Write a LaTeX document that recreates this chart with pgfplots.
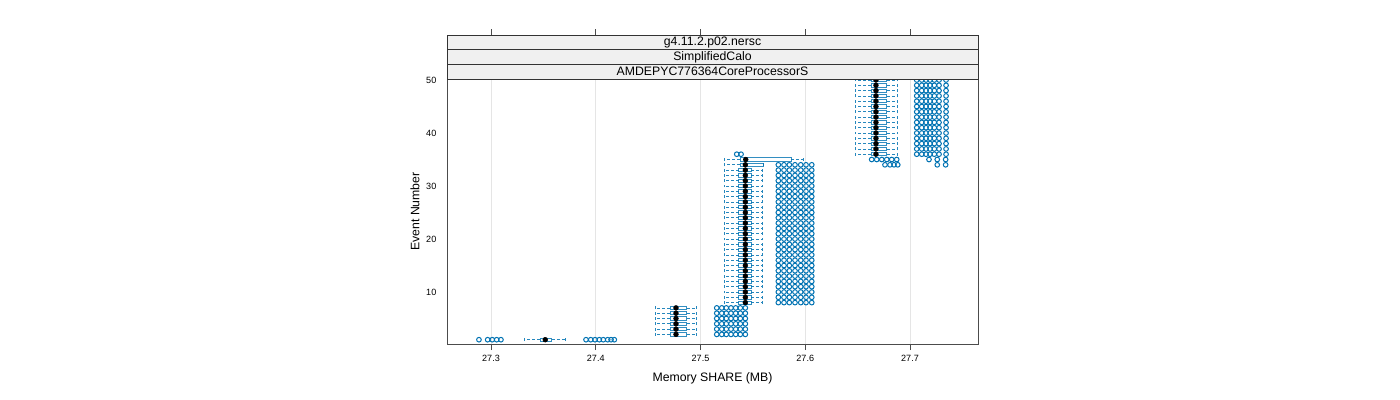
\documentclass[border=0pt]{standalone}
\usepackage{fontspec}
\setmainfont{Liberation Sans}
\usepackage{pgfplots}
\usepackage{pgfplotstable}
\usepgfplotslibrary{statistics}
\pgfplotsset{compat=1.18}
\definecolor{bl}{RGB}{0,114,178}
\definecolor{stripc}{RGB}{240,240,240}
\pgfplotsset{bxstyle/.style={color=bl, draw=bl, draw opacity=0.8, line width=0.6pt}}

\pgfplotstableread{
ev lw lq med uq uw
1 27.3318 27.3468 27.3518 27.3580 27.3706
2 27.4566 27.4709 27.4766 27.4868 27.4957
3 27.4566 27.4709 27.4766 27.4868 27.4957
4 27.4566 27.4709 27.4766 27.4868 27.4957
5 27.4566 27.4709 27.4766 27.4868 27.4957
6 27.4566 27.4709 27.4766 27.4868 27.4957
7 27.4566 27.4709 27.4766 27.4868 27.4957
8 27.5224 27.5365 27.5428 27.5485 27.5594
9 27.5224 27.5365 27.5428 27.5485 27.5594
10 27.5224 27.5365 27.5428 27.5485 27.5594
11 27.5224 27.5365 27.5428 27.5485 27.5594
12 27.5224 27.5365 27.5428 27.5485 27.5594
13 27.5224 27.5365 27.5428 27.5485 27.5594
14 27.5224 27.5365 27.5428 27.5485 27.5594
15 27.5224 27.5365 27.5428 27.5485 27.5594
16 27.5224 27.5365 27.5428 27.5485 27.5594
17 27.5224 27.5365 27.5428 27.5485 27.5594
18 27.5224 27.5365 27.5428 27.5485 27.5594
19 27.5224 27.5365 27.5428 27.5485 27.5594
20 27.5224 27.5365 27.5428 27.5485 27.5594
21 27.5224 27.5365 27.5428 27.5485 27.5594
22 27.5224 27.5365 27.5428 27.5485 27.5594
23 27.5224 27.5365 27.5428 27.5485 27.5594
24 27.5224 27.5365 27.5428 27.5485 27.5594
25 27.5224 27.5365 27.5428 27.5485 27.5594
26 27.5224 27.5365 27.5428 27.5485 27.5594
27 27.5224 27.5365 27.5428 27.5485 27.5594
28 27.5224 27.5365 27.5428 27.5485 27.5594
29 27.5224 27.5365 27.5428 27.5485 27.5594
30 27.5224 27.5365 27.5428 27.5485 27.5594
31 27.5224 27.5365 27.5428 27.5485 27.5594
32 27.5224 27.5365 27.5428 27.5485 27.5594
33 27.5224 27.5365 27.5428 27.5485 27.5594
34 27.5224 27.5377 27.5428 27.5597 27.5597
35 27.5224 27.5377 27.5432 27.5864 27.5982
36 27.6475 27.6630 27.6675 27.6778 27.6876
37 27.6475 27.6630 27.6675 27.6778 27.6876
38 27.6475 27.6630 27.6675 27.6778 27.6876
39 27.6475 27.6630 27.6675 27.6778 27.6876
40 27.6475 27.6630 27.6675 27.6778 27.6876
41 27.6475 27.6630 27.6675 27.6778 27.6876
42 27.6475 27.6630 27.6675 27.6778 27.6876
43 27.6475 27.6630 27.6675 27.6778 27.6876
44 27.6475 27.6630 27.6675 27.6778 27.6876
45 27.6475 27.6630 27.6675 27.6778 27.6876
46 27.6475 27.6630 27.6675 27.6778 27.6876
47 27.6475 27.6630 27.6675 27.6778 27.6876
48 27.6475 27.6630 27.6675 27.6778 27.6876
49 27.6475 27.6630 27.6675 27.6778 27.6876
50 27.6475 27.6630 27.6675 27.6778 27.6876
}\stats

\pgfplotstableread{
ev o1 o2 o3 o4 o5 o6 o7 o8 o9 o10 o11 o12 o13
1 27.2885 27.2968 27.3012 27.3054 27.3095 27.3907 27.3952 27.3993 27.4034 27.4072 27.4114 27.4146 27.4177
2 27.5155 27.5203 27.5246 27.5291 27.5336 27.5380 27.5428 nan nan nan nan nan nan
3 27.5155 27.5203 27.5246 27.5291 27.5336 27.5380 27.5428 nan nan nan nan nan nan
4 27.5155 27.5203 27.5246 27.5291 27.5336 27.5380 27.5428 nan nan nan nan nan nan
5 27.5155 27.5203 27.5246 27.5291 27.5336 27.5380 27.5428 nan nan nan nan nan nan
6 27.5155 27.5203 27.5246 27.5291 27.5336 27.5380 27.5428 nan nan nan nan nan nan
7 27.5155 27.5203 27.5246 27.5291 27.5336 27.5380 27.5428 nan nan nan nan nan nan
8 27.5743 27.5797 27.5848 27.5902 27.5957 27.6007 27.6062 nan nan nan nan nan nan
9 27.5743 27.5797 27.5848 27.5902 27.5957 27.6007 27.6062 nan nan nan nan nan nan
10 27.5743 27.5797 27.5848 27.5902 27.5957 27.6007 27.6062 nan nan nan nan nan nan
11 27.5743 27.5797 27.5848 27.5902 27.5957 27.6007 27.6062 nan nan nan nan nan nan
12 27.5743 27.5797 27.5848 27.5902 27.5957 27.6007 27.6062 nan nan nan nan nan nan
13 27.5743 27.5797 27.5848 27.5902 27.5957 27.6007 27.6062 nan nan nan nan nan nan
14 27.5743 27.5797 27.5848 27.5902 27.5957 27.6007 27.6062 nan nan nan nan nan nan
15 27.5743 27.5797 27.5848 27.5902 27.5957 27.6007 27.6062 nan nan nan nan nan nan
16 27.5743 27.5797 27.5848 27.5902 27.5957 27.6007 27.6062 nan nan nan nan nan nan
17 27.5743 27.5797 27.5848 27.5902 27.5957 27.6007 27.6062 nan nan nan nan nan nan
18 27.5743 27.5797 27.5848 27.5902 27.5957 27.6007 27.6062 nan nan nan nan nan nan
19 27.5743 27.5797 27.5848 27.5902 27.5957 27.6007 27.6062 nan nan nan nan nan nan
20 27.5743 27.5797 27.5848 27.5902 27.5957 27.6007 27.6062 nan nan nan nan nan nan
21 27.5743 27.5797 27.5848 27.5902 27.5957 27.6007 27.6062 nan nan nan nan nan nan
22 27.5743 27.5797 27.5848 27.5902 27.5957 27.6007 27.6062 nan nan nan nan nan nan
23 27.5743 27.5797 27.5848 27.5902 27.5957 27.6007 27.6062 nan nan nan nan nan nan
24 27.5743 27.5797 27.5848 27.5902 27.5957 27.6007 27.6062 nan nan nan nan nan nan
25 27.5743 27.5797 27.5848 27.5902 27.5957 27.6007 27.6062 nan nan nan nan nan nan
26 27.5743 27.5797 27.5848 27.5902 27.5957 27.6007 27.6062 nan nan nan nan nan nan
27 27.5743 27.5797 27.5848 27.5902 27.5957 27.6007 27.6062 nan nan nan nan nan nan
28 27.5743 27.5797 27.5848 27.5902 27.5957 27.6007 27.6062 nan nan nan nan nan nan
29 27.5743 27.5797 27.5848 27.5902 27.5957 27.6007 27.6062 nan nan nan nan nan nan
30 27.5743 27.5797 27.5848 27.5902 27.5957 27.6007 27.6062 nan nan nan nan nan nan
31 27.5743 27.5797 27.5848 27.5902 27.5957 27.6007 27.6062 nan nan nan nan nan nan
32 27.5743 27.5797 27.5848 27.5902 27.5957 27.6007 27.6062 nan nan nan nan nan nan
33 27.5743 27.5797 27.5848 27.5902 27.5957 27.6007 27.6062 nan nan nan nan nan nan
34 27.5743 27.5797 27.5848 27.5902 27.5957 27.6007 27.6062 27.6761 27.6809 27.6847 27.6883 27.7260 27.7340
35 27.6634 27.6682 27.6730 27.6778 27.6825 27.6873 27.7181 27.7260 27.7340 nan nan nan nan
36 27.5346 27.5387 27.7064 27.7112 27.7153 27.7191 27.7232 27.7277 27.7344 nan nan nan nan
37 27.7064 27.7112 27.7153 27.7191 27.7232 27.7277 27.7344 nan nan nan nan nan nan
38 27.7064 27.7112 27.7153 27.7191 27.7232 27.7277 27.7344 nan nan nan nan nan nan
39 27.7064 27.7112 27.7153 27.7191 27.7232 27.7277 27.7344 nan nan nan nan nan nan
40 27.7064 27.7112 27.7153 27.7191 27.7232 27.7277 27.7344 nan nan nan nan nan nan
41 27.7064 27.7112 27.7153 27.7191 27.7232 27.7277 27.7344 nan nan nan nan nan nan
42 27.7064 27.7112 27.7153 27.7191 27.7232 27.7277 27.7344 nan nan nan nan nan nan
43 27.7064 27.7112 27.7153 27.7191 27.7232 27.7277 27.7344 nan nan nan nan nan nan
44 27.7064 27.7112 27.7153 27.7191 27.7232 27.7277 27.7344 nan nan nan nan nan nan
45 27.7064 27.7112 27.7153 27.7191 27.7232 27.7277 27.7344 nan nan nan nan nan nan
46 27.7064 27.7112 27.7153 27.7191 27.7232 27.7277 27.7344 nan nan nan nan nan nan
47 27.7064 27.7112 27.7153 27.7191 27.7232 27.7277 27.7344 nan nan nan nan nan nan
48 27.7064 27.7112 27.7153 27.7191 27.7232 27.7277 27.7344 nan nan nan nan nan nan
49 27.7064 27.7112 27.7153 27.7191 27.7232 27.7277 27.7344 nan nan nan nan nan nan
50 27.7064 27.7112 27.7153 27.7191 27.7232 27.7277 27.7344 nan nan nan nan nan nan
}\outl

\begin{document}
\begin{tikzpicture}
\useasboundingbox (0,0) rectangle (1050pt,300pt);
\begin{axis}[
  at={(335.25pt,42pt)}, anchor=south west,
  scale only axis, width=398.25pt, height=198.75pt,
  xmin=27.258, xmax=27.7649, ymin=0.19, ymax=50.19,
  xtick={27.3,27.4,27.5,27.6,27.7}, ytick={10,20,30,40,50},
  xticklabels={27.3,27.4,27.5,27.6,27.7},
  xtick pos=left, tick align=outside, major tick length=4.5pt,
  ytick style={draw=none},
  xtick style={black!70, line width=0.6pt},
  xmajorgrids, major grid style={black!10, line width=0.5pt},
  axis line style={black!70, line width=0.6pt},
  tick label style={font=\fontsize{6.8}{8}\selectfont},
  /pgf/number format/assume math mode=true,
  xlabel={Memory SHARE (MB)}, ylabel={Event Number},
  label style={font=\fontsize{9.2}{11}\selectfont},
  xlabel style={at={(axis description cs:0.5,-0.1283)}, anchor=center},
  ylabel style={at={(axis description cs:-0.0603,0.5)}, anchor=center},
  boxplot/draw direction=x,
  boxplot/box extend=0.62,
  boxplot/whisker extend=0.55,
  boxplot/every box/.style={draw=bl, draw opacity=0.8, line width=0.6pt},
  boxplot/every whisker/.style={draw=bl, draw opacity=0.85, dash pattern=on 2.2pt off 1.6pt},
  boxplot/every median/.style={draw=none},
  clip mode=individual,
]
\pgfplotsinvokeforeach{0,...,49}{
  \pgfplotstablegetelem{#1}{ev}\of\stats \let\vev\pgfplotsretval
  \pgfplotstablegetelem{#1}{lw}\of\stats \let\vlw\pgfplotsretval
  \pgfplotstablegetelem{#1}{lq}\of\stats \let\vlq\pgfplotsretval
  \pgfplotstablegetelem{#1}{med}\of\stats \let\vmed\pgfplotsretval
  \pgfplotstablegetelem{#1}{uq}\of\stats \let\vuq\pgfplotsretval
  \pgfplotstablegetelem{#1}{uw}\of\stats \let\vuw\pgfplotsretval
  \edef\temp{\noexpand\addplot[bxstyle, boxplot prepared={draw position=\vev,
      lower whisker=\vlw, lower quartile=\vlq, median=\vmed,
      upper quartile=\vuq, upper whisker=\vuw}] coordinates {};}
  \temp
}
\addplot[only marks, mark=*, mark size=1.8pt, black] table[x=med, y=ev] {\stats};
\pgfplotsinvokeforeach{1,...,13}{
  \addplot[only marks, mark=o, mark size=1.75pt, draw=bl, line width=0.75pt] table[x=o#1, y=ev] {\outl};
}
% strips
\draw[fill=stripc, draw=black!80, line width=0.6pt] (rel axis cs:0,1) rectangle (rel axis cs:1,1.0553);
\draw[fill=stripc, draw=black!80, line width=0.6pt] (rel axis cs:0,1.0553) rectangle (rel axis cs:1,1.1107);
\draw[fill=stripc, draw=black!80, line width=0.6pt] (rel axis cs:0,1.1107) rectangle (rel axis cs:1,1.166);
\node[font=\fontsize{9.2}{11}\selectfont] at (rel axis cs:0.5,1.0277) {AMDEPYC776364CoreProcessorS};
\node[font=\fontsize{9.2}{11}\selectfont] at (rel axis cs:0.5,1.0830) {SimplifiedCalo};
\node[font=\fontsize{9.2}{11}\selectfont] at (rel axis cs:0.5,1.1384) {g4.11.2.p02.nersc};
% top ticks
\draw[black!70, line width=0.6pt] (axis cs:27.3,58.49) -- (axis cs:27.3,59.62);
\draw[black!70, line width=0.6pt] (axis cs:27.4,58.49) -- (axis cs:27.4,59.62);
\draw[black!70, line width=0.6pt] (axis cs:27.5,58.49) -- (axis cs:27.5,59.62);
\draw[black!70, line width=0.6pt] (axis cs:27.6,58.49) -- (axis cs:27.6,59.62);
\draw[black!70, line width=0.6pt] (axis cs:27.7,58.49) -- (axis cs:27.7,59.62);
\end{axis}
\end{tikzpicture}
\end{document}
